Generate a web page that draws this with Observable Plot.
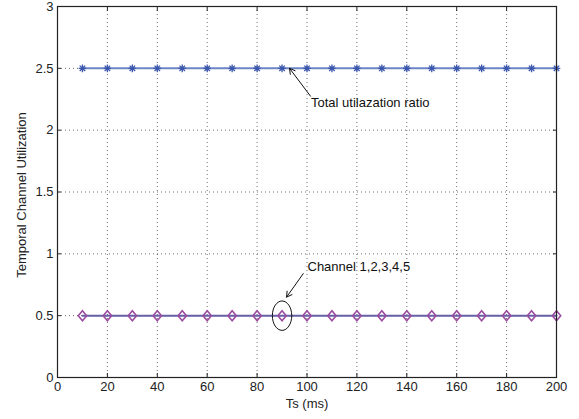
<!DOCTYPE html>
<html>
<head>
<meta charset="utf-8">
<script src="https://cdn.jsdelivr.net/npm/d3@7"></script>
<script src="https://cdn.jsdelivr.net/npm/@observablehq/plot@0.6"></script>
<style>
  html, body { margin: 0; padding: 0; background: #fff; }
  #chart svg { display: block; }
</style>
</head>
<body>
<div id="chart"></div>
<script>
// ---- data ----
const ts = [10, 20, 30, 40, 50, 60, 70, 80, 90, 100, 110, 120, 130, 140, 150, 160, 170, 180, 190, 200];
const totalRatio = [2.5, 2.5, 2.5, 2.5, 2.5, 2.5, 2.5, 2.5, 2.5, 2.5, 2.5, 2.5, 2.5, 2.5, 2.5, 2.5, 2.5, 2.5, 2.5, 2.5];
const channelRatio = [0.5, 0.5, 0.5, 0.5, 0.5, 0.5, 0.5, 0.5, 0.5, 0.5, 0.5, 0.5, 0.5, 0.5, 0.5, 0.5, 0.5, 0.5, 0.5, 0.5];
const xTicks = [0, 20, 40, 60, 80, 100, 120, 140, 160, 180, 200];
const yTicks = [0, 0.5, 1, 1.5, 2, 2.5, 3];
const yTickLabels = ["0", "0.5", "1", "1.5", "2", "2.5", "3"];
const xLabel = "Ts (ms)";
const yLabel = "Temporal Channel Utilization";
// annotations (data coordinates)
const annoTotal = {text: "Total utilazation ratio", tx: 101.6, ty: 2.22, x1: 101.4, y1: 2.275, x2: 93, y2: 2.5};
const annoChannel = {text: "Channel 1,2,3,4,5", tx: 100.2, ty: 0.895, x1: 98.5, y1: 0.84, x2: 91.8, y2: 0.65, cx: 90, cy: 0.5};

const totalData = ts.map((t, i) => ({t, v: totalRatio[i]}));
const channelData = ts.map((t, i) => ({t, v: channelRatio[i]}));

// ---- symbols ----
const star8 = {draw(ctx) {
  const r = 3.8, d = r * 0.72;
  ctx.moveTo(-r, 0); ctx.lineTo(r, 0);
  ctx.moveTo(0, -r); ctx.lineTo(0, r);
  ctx.moveTo(-d, -d); ctx.lineTo(d, d);
  ctx.moveTo(-d, d); ctx.lineTo(d, -d);
}};
const diamondTall = {draw(ctx) {
  ctx.moveTo(0, -5); ctx.lineTo(4.2, 0); ctx.lineTo(0, 5); ctx.lineTo(-4.2, 0); ctx.closePath();
}};
const ellipseSym = {draw(ctx) {
  const rx = 9.7, ry = 14.7, k = 0.5523;
  ctx.moveTo(rx, 0);
  ctx.bezierCurveTo(rx, ry * k, rx * k, ry, 0, ry);
  ctx.bezierCurveTo(-rx * k, ry, -rx, ry * k, -rx, 0);
  ctx.bezierCurveTo(-rx, -ry * k, -rx * k, -ry, 0, -ry);
  ctx.bezierCurveTo(rx * k, -ry, rx, -ry * k, rx, 0);
  ctx.closePath();
}};

const font = "'Liberation Sans', Arial, Helvetica, sans-serif";
const gridStyle = {stroke: "#555", strokeOpacity: 0.85, strokeDasharray: "1,3", strokeWidth: 1};

const chart = Plot.plot({
  width: 579,
  height: 419,
  marginLeft: 57,
  marginRight: 23,
  marginTop: 6,
  marginBottom: 42,
  style: {fontFamily: font, fontSize: "13px", background: "#fff", color: "#222"},
  x: {domain: [0, 200]},
  y: {domain: [0, 3]},
  marks: [
    Plot.gridX(xTicks.slice(1, -1), gridStyle),
    Plot.gridY(yTicks.slice(1, -1), gridStyle),
    // tick labels
    Plot.axisX({ticks: xTicks, tickSize: 0, tickPadding: 4, tickFormat: d => String(d), label: null, fontSize: 13}),
    Plot.axisY({ticks: yTicks, tickSize: 0, tickPadding: 4, tickFormat: d => yTickLabels[yTicks.indexOf(d)], label: null, fontSize: 13}),
    // inward tick marks on all sides
    Plot.axisX({ticks: xTicks, tickSize: -4, text: null, label: null, stroke: "#222"}),
    Plot.axisX({anchor: "top", ticks: xTicks, tickSize: -4, text: null, label: null, stroke: "#222"}),
    Plot.axisY({ticks: yTicks, tickSize: -4, text: null, label: null, stroke: "#222"}),
    Plot.axisY({anchor: "right", ticks: yTicks, tickSize: -4, text: null, label: null, stroke: "#222"}),
    // series
    Plot.line(totalData, {x: "t", y: "v", stroke: "#6e86c8", strokeWidth: 2}),
    Plot.dot(totalData, {x: "t", y: "v", symbol: star8, stroke: "#3a56ad", strokeWidth: 1.3}),
    Plot.line(channelData, {x: "t", y: "v", stroke: "#6660a8", strokeWidth: 2}),
    Plot.dot(channelData, {x: "t", y: "v", symbol: diamondTall, stroke: "#9b4c9f", strokeWidth: 1.6, fill: "none"}),
    // annotations
    Plot.arrow([annoTotal], {x1: "x1", y1: "y1", x2: "x2", y2: "y2", stroke: "#111", strokeWidth: 1, headLength: 9}),
    Plot.text([annoTotal], {x: "tx", y: "ty", text: "text", textAnchor: "start", fontSize: 13, fill: "#111"}),
    Plot.arrow([annoChannel], {x1: "x1", y1: "y1", x2: "x2", y2: "y2", stroke: "#111", strokeWidth: 1, headLength: 9}),
    Plot.text([annoChannel], {x: "tx", y: "ty", text: "text", textAnchor: "start", fontSize: 13, fill: "#111"}),
    Plot.dot([annoChannel], {x: "cx", y: "cy", symbol: ellipseSym, stroke: "#111", strokeWidth: 1, fill: "none"}),
    // axis titles
    Plot.text([xLabel], {frameAnchor: "bottom", dy: 30, text: d => d, fontSize: 13, fill: "#222"}),
    Plot.text([yLabel], {frameAnchor: "left", textAnchor: "middle", dx: -36, dy: 3, rotate: -90, text: d => d, fontSize: 13, fill: "#222"}),
    Plot.frame({stroke: "#222", strokeWidth: 1.2})
  ]
});
document.getElementById("chart").appendChild(chart);
</script>
</body>
</html>
